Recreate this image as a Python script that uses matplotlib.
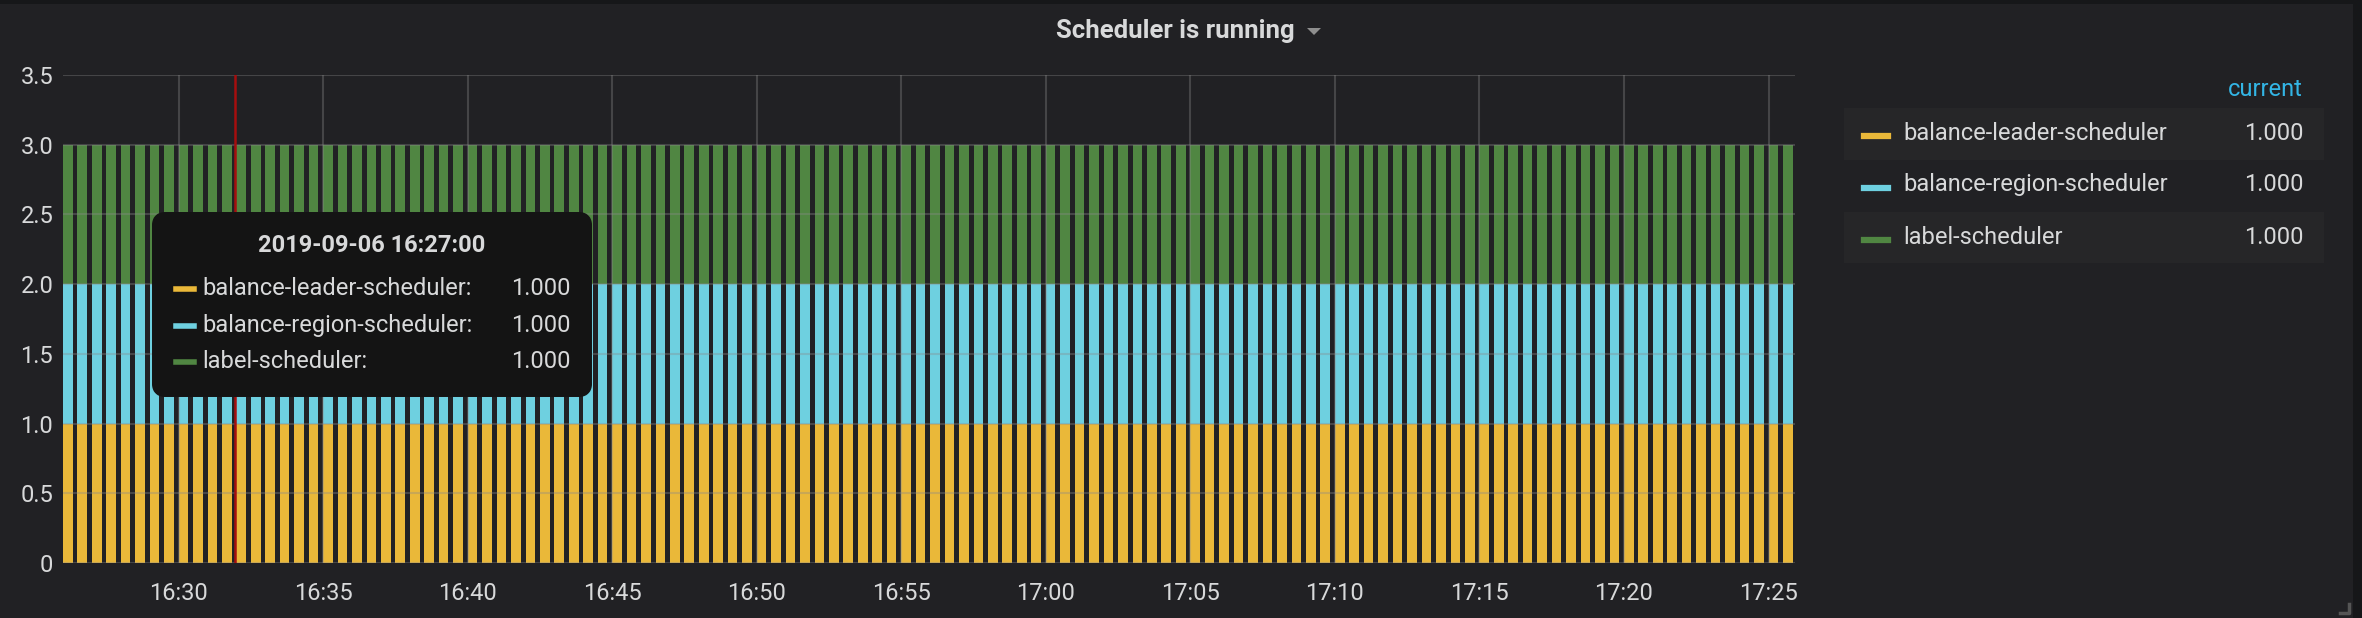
import numpy as np
import matplotlib
matplotlib.use("Agg")
import matplotlib.pyplot as plt
import matplotlib.dates as mdates
from matplotlib.patches import Rectangle, FancyBboxPatch, Polygon

plt.rcParams['font.family'] = ['Roboto', 'DejaVu Sans']

# data
series = ['balance-leader-scheduler', 'balance-region-scheduler', 'label-scheduler']
colors = ['#EAB839', '#6ED0E0', '#508642']
start = np.datetime64('2019-09-06T16:26:00')
times = start + np.arange(120) * np.timedelta64(30, 's')
leader = [1.0] * 120
region = [1.0] * 120
label = [1.0] * 120
current = ['1.000', '1.000', '1.000']
tooltip_time = '2019-09-06 16:27:00'
tooltip_vals = ['1.000', '1.000', '1.000']
cursor_time = np.datetime64('2019-09-06T16:31:56')

W, H = 2362, 618


def px(x, y):
    return x / W, 1 - y / H


fig = plt.figure(figsize=(W / 100, H / 100), dpi=100)
fig.patch.set_facecolor('#161719')
fig.patches.append(Rectangle((0, 0), 2353 / W, 1 - 4 / H, transform=fig.transFigure,
                             facecolor='#212124', edgecolor='none', zorder=-1))

ax = fig.add_axes([63 / W, 1 - 563 / H, (1795 - 63) / W, (563 - 75) / H])
ax.set_facecolor('none')

x = mdates.date2num(times.astype('datetime64[s]').astype(object))
w = 20 / 86400
b1 = np.array(leader)
b2 = b1 + np.array(region)
ax.bar(x, leader, width=w, align='edge', color=colors[0], zorder=2)
ax.bar(x, region, width=w, align='edge', bottom=b1, color=colors[1], zorder=2)
ax.bar(x, label, width=w, align='edge', bottom=b2, color=colors[2], zorder=2)

t0 = mdates.date2num(np.datetime64('2019-09-06T16:26:00').astype(object))
t1 = mdates.date2num(np.datetime64('2019-09-06T17:25:55').astype(object))
ax.set_xlim(t0, t1)
ax.set_ylim(0, 3.5)

ticks = np.datetime64('2019-09-06T16:30') + np.arange(12) * np.timedelta64(5, 'm')
ax.set_xticks(mdates.date2num(ticks.astype('datetime64[s]').astype(object)))
ax.xaxis.set_major_formatter(mdates.DateFormatter('%H:%M'))
yt = np.arange(0, 3.51, 0.5)
ax.set_yticks(yt)
ax.set_yticklabels(['0' if v == 0 else f'{v:.1f}' for v in yt])
ax.tick_params(length=0, labelsize=17, colors='#d8d9da')
ax.tick_params(axis='x', pad=14)
ax.tick_params(axis='y', pad=7)
for s in ax.spines.values():
    s.set_visible(False)
ax.grid(True, color='#8a8a8a', alpha=0.35, lw=1.5, zorder=3)
ax.set_axisbelow(False)

ax.axvline(mdates.date2num(cursor_time.astype(object)), color='#a50e0e', lw=1.8, zorder=4)

# title
fig.text(*px(1175, 31), 'Scheduler is running', ha='center', va='center',
         fontsize=18.5, weight='bold', color='#d8d9da')
fig.patches.append(Polygon([px(1307, 28), px(1321, 28), px(1314, 35)], closed=True,
                           transform=fig.transFigure, facecolor='#8e8e8e', edgecolor='none'))

# tooltip
tl, tt, tr, tb = 152, 212, 592, 397
fig.patches.append(FancyBboxPatch(px(tl + 8, tb - 8), (tr - tl - 16) / W, (tb - tt - 16) / H,
                                  boxstyle='round,pad=0,rounding_size=0.002',
                                  mutation_aspect=W / H,
                                  transform=fig.transFigure, facecolor='#141414',
                                  edgecolor='#141414', lw=11.5, joinstyle='round', zorder=5))
fig.text(*px(372, 245), tooltip_time, ha='center', va='center', fontsize=17,
         weight='bold', color='#d8d9da', zorder=6)
for i, (name, val) in enumerate(zip(series, tooltip_vals)):
    yy = [289, 326, 362][i]
    fig.lines.append(plt.Line2D([176 / W, 194 / W], [1 - yy / H] * 2, transform=fig.transFigure,
                                color=colors[i], lw=4, zorder=6))
    fig.text(*px(202, yy), name + ':', ha='left', va='center', fontsize=17,
             color='#d8d9da', zorder=6)
    fig.text(*px(571, yy), val, ha='right', va='center', fontsize=17,
             color='#d8d9da', zorder=6)

# legend
fig.text(*px(2303, 89), 'current', ha='right', va='center', fontsize=17, color='#33b5e5')
bands = [(108, 160), (212, 263)]
for ytop, ybot in bands:
    fig.patches.append(Rectangle(px(1844, ybot), (2324 - 1844) / W, (ybot - ytop) / H,
                                 transform=fig.transFigure, facecolor='#262628',
                                 edgecolor='none', zorder=1))
for i, (name, val) in enumerate(zip(series, current)):
    yy = [133, 185, 237][i]
    fig.lines.append(plt.Line2D([1864 / W, 1888 / W], [1 - (yy + 3) / H] * 2,
                                transform=fig.transFigure, color=colors[i], lw=4.5, zorder=2))
    fig.text(*px(1903, yy), name, ha='left', va='center', fontsize=17, color='#d8d9da')
    fig.text(*px(2304, yy), val, ha='right', va='center', fontsize=17, color='#d8d9da')

# resize corner
fig.lines.append(plt.Line2D([2340 / W, 2349 / W, 2349 / W], [1 - 613 / H, 1 - 613 / H, 1 - 604 / H],
                            transform=fig.transFigure, color='#555555', lw=2.5))

fig.savefig('out.png', dpi=100, facecolor=fig.get_facecolor())
